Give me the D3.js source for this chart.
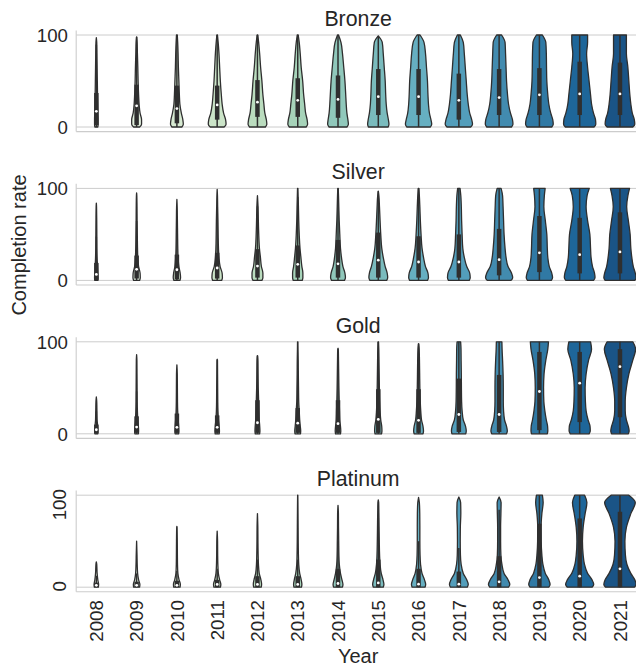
<!DOCTYPE html>
<html>
<head>
<meta charset="utf-8">
<script src="https://cdn.jsdelivr.net/npm/d3@7"></script>
<style>
    body { margin: 0; background: white; }
    text { font-family: 'Liberation Sans', Arial, sans-serif; fill: #262626; }
</style>
</head>
<body>
<svg id="chart" width="636" height="666"></svg>
<script>

let years = ['2008', '2009', '2010', '2011', '2012', '2013', '2014', '2015', '2016', '2017', '2018', '2019', '2020', '2021']
let panels = ['Bronze', 'Silver', 'Gold', 'Platinum']
let yTicks = [0, 100]

// completion rate levels at which the violin half widths were read
let levels = [0, 3, 8, 15, 25, 35, 50, 65, 80, 92, 100]

let bronzeMax = [97, 98, 100, 100, 100, 100, 100, 99, 100, 100, 100, 100, 100, 100]
let bronzeQ1 = [2, 2, 4, 8, 11, 11, 10, 13, 13, 8, 13, 13, 13, 13]
let bronzeMed = [17, 23, 20, 24, 27, 29, 30, 33, 33, 29, 32, 35, 36, 36]
let bronzeQ3 = [37, 46, 45, 45, 51, 53, 56, 63, 63, 58, 63, 64, 71, 70]
let bronzeWidth = [
    [1.5, 1.8, 1.8, 1.6, 1.4, 1.2, 1, 0.8, 0.6, 0.4, 0],
    [3, 5, 5, 3.5, 2.5, 2, 1.5, 1.2, 0.8, 0.5, 0],
    [5, 6.5, 6, 4.5, 3, 2.5, 2, 1.5, 1.2, 0.8, 0.4],
    [7, 9, 8.5, 6.5, 5, 4.2, 3.2, 2.5, 1.8, 1, 0.3],
    [8, 9.5, 9, 7.5, 6.5, 5.5, 4.5, 3.2, 2.2, 1.2, 0.3],
    [8.5, 10, 9.5, 8, 7, 6, 5, 3.5, 2.5, 1.5, 0.5],
    [9, 10.5, 10, 9, 8.3, 7.8, 7, 5.8, 4.5, 3, 0.5],
    [10, 10.8, 10.2, 9, 8, 7.5, 7, 6, 5, 4, 1],
    [12, 13.3, 12.5, 11, 10, 9.5, 9, 8, 7, 5.5, 1.5],
    [12, 13.8, 13, 11, 9.5, 8.5, 7.5, 6.5, 5.5, 4.5, 1.5],
    [12.5, 14, 13.5, 11.5, 9.5, 8.5, 7.5, 7, 6.5, 6, 2.5],
    [12.5, 14, 13.5, 11.5, 9.5, 8.5, 7.5, 7.2, 7, 6.5, 3],
    [14.5, 16.3, 16, 14, 12, 11, 9.5, 8, 7, 8, 8],
    [13, 15, 14.5, 12.5, 11, 10, 9, 8, 6.5, 6.5, 6.5]
]

let silverMax = [84, 95, 88, 99, 92, 100, 100, 97, 100, 100, 100, 100, 100, 100]
let silverQ1 = [0, 2, 1, 2, 3, 3, 3, 3, 3, 3, 5.5, 9, 7.6, 7.6]
let silverMed = [6.5, 12, 11.6, 13.5, 15.6, 17.5, 18, 22, 20, 20, 22.5, 30, 28, 31]
let silverQ3 = [19, 27, 28, 30, 34, 38, 44, 52, 48, 50, 56, 70, 68, 74]
let silverWidth = [
    [1.5, 1.8, 1.5, 1.2, 0.8, 0.6, 0.5, 0.4, 0.2, 0, 0],
    [3, 3.7, 3.5, 2, 1.2, 0.9, 0.7, 0.5, 0.4, 0.2, 0],
    [3, 3.7, 3.3, 2, 1.2, 0.9, 0.7, 0.5, 0.3, 0, 0],
    [4.5, 5.3, 5, 3, 1.8, 1.3, 1, 0.8, 0.5, 0.3, 0],
    [4.5, 5.5, 5.5, 4, 3, 2, 1.3, 0.9, 0.6, 0.3, 0],
    [4.5, 5.2, 5.2, 4.2, 3.2, 2.3, 1.5, 1, 0.7, 0.4, 0.2],
    [6.5, 7.5, 7, 5, 3.5, 2.5, 1.8, 1.2, 0.8, 0.5, 0.2],
    [8.5, 9.5, 9, 7, 5, 3.5, 2.5, 1.8, 1.2, 0.6, 0],
    [9, 10, 9.5, 7, 5, 3.5, 2.5, 1.8, 1.3, 0.8, 0.3],
    [10.5, 11.5, 11, 8, 5.5, 4, 3.3, 2.8, 2.5, 2, 1.2],
    [12, 13.7, 12.5, 9, 7, 6, 5, 4.5, 4, 3.5, 2],
    [12, 13.3, 12.5, 10, 8.5, 8, 7.5, 6, 4.5, 5, 5.8],
    [14, 15.5, 15, 13, 11.5, 11, 10.3, 8, 6.5, 7.5, 9.7],
    [15, 16.3, 15.5, 13.5, 12, 11, 10.3, 8.5, 6.8, 8, 9.7]
]

let goldMax = [40, 86, 75, 81, 85, 100, 93, 100, 98, 100, 100, 100, 100, 100]
let goldQ1 = [0.5, 1, 1, 1, 1, 1, 1, 1, 1, 2, 2, 4, 12.7, 18]
let goldMed = [4.4, 7.3, 7, 7, 12, 11.6, 11, 15.6, 14.6, 21, 21, 46, 55, 73]
let goldQ3 = [10, 19, 22, 20, 36.5, 28, 36.5, 48.5, 48.5, 60, 64, 89, 89, 92]
let goldWidth = [
    [1.5, 1.6, 1.4, 0.8, 0.6, 0.4, 0, 0, 0, 0, 0],
    [1.8, 2, 1.8, 1.2, 0.8, 0.6, 0.5, 0.4, 0.3, 0, 0],
    [1.8, 2, 1.8, 1.3, 0.8, 0.6, 0.5, 0.4, 0, 0, 0],
    [2, 2.3, 2, 1.3, 0.8, 0.6, 0.5, 0.4, 0.3, 0, 0],
    [2.2, 2.5, 2.3, 1.8, 1.5, 1.2, 0.8, 0.6, 0.4, 0, 0],
    [2.8, 3, 2.6, 2, 1.5, 1, 0.8, 0.6, 0.5, 0.3, 0.2],
    [2.5, 2.8, 2.5, 1.8, 1.5, 1.2, 0.9, 0.7, 0.5, 0.3, 0],
    [3.3, 3.7, 3.5, 2.5, 1.8, 1.4, 1.1, 0.9, 0.7, 0.5, 0.2],
    [4.5, 5, 4.5, 3, 2.2, 1.7, 1.3, 1.1, 0.9, 0.6, 0],
    [7, 7.5, 6.8, 4.5, 3.3, 2.8, 2.6, 2.5, 2.3, 2.2, 1.8],
    [7.5, 8.3, 7.5, 5.5, 4.5, 4.2, 4.2, 4, 3.5, 3, 2.8],
    [8, 8.5, 8.3, 7, 5.5, 4.5, 4.2, 4.7, 6.5, 8.5, 9.2],
    [9.5, 10.7, 10.5, 8.5, 6.5, 5.8, 5.5, 6.5, 9, 12, 11],
    [8.5, 9.3, 8.5, 6.5, 5.3, 5.3, 6.5, 9, 13, 15.8, 13]
]

let platinumMax = [27.5, 50, 66, 61, 80, 100, 89, 95, 97.5, 98, 98, 100, 100, 100]
let platinumQ1 = [0, 0, 0, 0, 0, 0, 0, 0, 0, 0, 0, 0, 0, 0]
let platinumMed = [2, 2, 2, 3, 3, 3, 4, 4.7, 3.3, 3.3, 5.8, 10.5, 12, 20]
let platinumQ3 = [5, 6, 7, 8, 12, 12, 20, 30, 20, 17, 33.7, 69, 74.7, 82]
let platinumWidth = [
    [2, 2.3, 1.5, 0.8, 0.4, 0, 0, 0, 0, 0, 0],
    [3, 3.3, 2, 1, 0.6, 0.4, 0.3, 0, 0, 0, 0],
    [3.2, 3.5, 2.2, 1, 0.6, 0.5, 0.4, 0.2, 0, 0, 0],
    [3.3, 3.7, 2.5, 1.2, 0.7, 0.5, 0.4, 0, 0, 0, 0],
    [3.8, 4.2, 3.5, 1.8, 1, 0.7, 0.5, 0.4, 0.2, 0, 0],
    [3.8, 4.2, 3.5, 2, 1, 0.7, 0.5, 0.4, 0.3, 0.2, 0.1],
    [4.5, 5, 4, 2.5, 1.3, 0.9, 0.7, 0.5, 0.4, 0, 0],
    [5, 5.7, 4.8, 3, 1.8, 1.3, 1, 0.8, 0.6, 0.4, 0],
    [6.5, 7.2, 6, 3.5, 2, 1.5, 1.3, 1.3, 1.2, 0.8, 0],
    [8.5, 9.5, 8, 4.5, 2.3, 1.6, 1.4, 1.5, 2, 1.8, 0.3],
    [9.5, 10.8, 9, 5, 2.8, 1.8, 1.5, 1.5, 1.8, 2, 0.5],
    [9.5, 10.8, 9.5, 6, 3.5, 2.5, 1.8, 1.7, 2.5, 3.8, 3],
    [12.5, 14.2, 12.5, 8, 4.8, 3.5, 2.8, 3.5, 5.5, 7.3, 5],
    [14.5, 16.3, 15, 11, 7, 5.5, 5, 6.5, 11, 15.5, 9]
]

let panelData = [
    {max: bronzeMax, q1: bronzeQ1, med: bronzeMed, q3: bronzeQ3, width: bronzeWidth},
    {max: silverMax, q1: silverQ1, med: silverMed, q3: silverQ3, width: silverWidth},
    {max: goldMax, q1: goldQ1, med: goldMed, q3: goldQ3, width: goldWidth},
    {max: platinumMax, q1: platinumQ1, med: platinumMed, q3: platinumQ3, width: platinumWidth}
]

// GnBu colormap, sampled like seaborn and desaturated to 0.75
let gnbu = ['#f7fcf0', '#e0f3db', '#ccebc5', '#a8ddb5', '#7bccc4', '#4eb3d3', '#2b8cbe', '#0868ac', '#084081']
let cmap = d3.scaleLinear()
    .domain(gnbu.map((c, i) => i / (gnbu.length - 1)))
    .range(gnbu)
    .interpolate(d3.interpolateRgb)
let colors = years.map((y, i) => {
    let c = d3.hsl(cmap((i + 1) / (years.length + 1)))
    c.s *= 0.75
    return c.formatHex()
})
let gray = '#2f2f2f'
let gridColor = '#cccccc'

let svg = d3.select('#chart')

let left = 76.2
let right = 640.1
let firstTop = 30.4
let panelStep = 153.4
let panelHeight = 101.2

let x = d3.scaleBand()
    .domain(years)
    .range([left, right])
    .paddingInner(0.2)
    .paddingOuter(0.1)

let halfWidth = d3.scaleLinear()
    .domain([0, 16.3])
    .range([0, x.bandwidth() / 2])

panels.forEach((name, p) => {
    let top = firstTop + p * panelStep
    let bottom = top + panelHeight
    let y = d3.scaleLinear().domain([-5, 105]).range([bottom, top])
    let data = panelData[p]
    let g = svg.append('g')

    // grid lines
    g.selectAll('.grid')
        .data(yTicks)
        .enter()
        .append('line')
        .attr('x1', left)
        .attr('x2', right)
        .attr('y1', d => y(d))
        .attr('y2', d => y(d))
        .attr('stroke', gridColor)
        .attr('stroke-width', 1)

    // spines (left and bottom)
    g.append('line')
        .attr('x1', left).attr('x2', left)
        .attr('y1', top).attr('y2', bottom)
        .attr('stroke', gridColor)
        .attr('stroke-width', 1.1)
    g.append('line')
        .attr('x1', left).attr('x2', right)
        .attr('y1', bottom).attr('y2', bottom)
        .attr('stroke', gridColor)
        .attr('stroke-width', 1.1)

    // title
    g.append('text')
        .text(name)
        .attr('x', (left + right) / 2)
        .attr('y', top - 4.4)
        .attr('text-anchor', 'middle')
        .attr('font-size', '21.3px')

    // y tick labels
    if (p < 3) {
        g.selectAll('.ytick')
            .data(yTicks)
            .enter()
            .append('text')
            .text(d => d)
            .attr('x', 68)
            .attr('y', d => y(d))
            .attr('dy', '0.36em')
            .attr('text-anchor', 'end')
            .attr('font-size', '18.67px')
    } else {
        g.selectAll('.ytick')
            .data(yTicks)
            .enter()
            .append('text')
            .text(d => d)
            .attr('transform', d => 'translate(66,' + (y(d) - 6) + ') rotate(-90)')
            .attr('text-anchor', 'end')
            .attr('font-size', '18.67px')
    }

    // violins
    years.forEach((year, i) => {
        let cx = x(year) + x.bandwidth() / 2
        let mx = data.max[i]
        let pts = []
        levels.forEach((lv, k) => {
            if (lv < mx || (lv === 100 && mx >= 100)) pts.push({v: lv, w: data.width[i][k]})
        })
        if (mx < 100) pts.push({v: mx, w: 0})

        let area = d3.area()
            .y(d => y(d.v))
            .x0(d => cx - halfWidth(d.w))
            .x1(d => cx + halfWidth(d.w))
            .curve(d3.curveMonotoneY)

        g.append('path')
            .attr('d', area(pts))
            .attr('fill', colors[i])
            .attr('stroke', gray)
            .attr('stroke-width', 1.3)
            .attr('stroke-linejoin', 'round')

        // inner box
        let q1 = data.q1[i]
        let q3 = data.q3[i]
        let iqr = q3 - q1
        let lo = Math.max(0, q1 - 1.5 * iqr)
        let hi = Math.min(mx, q3 + 1.5 * iqr)
        g.append('line')
            .attr('x1', cx).attr('x2', cx)
            .attr('y1', y(lo)).attr('y2', y(hi))
            .attr('stroke', gray)
            .attr('stroke-width', 1.5)
        g.append('line')
            .attr('x1', cx).attr('x2', cx)
            .attr('y1', y(q1)).attr('y2', y(q3))
            .attr('stroke', gray)
            .attr('stroke-width', 4.5)
        g.append('circle')
            .attr('cx', cx)
            .attr('cy', y(data.med[i]))
            .attr('r', 1.4)
            .attr('fill', 'white')
    })

    // x tick labels only on last panel
    if (p === 3) {
        g.selectAll('.xtick')
            .data(years)
            .enter()
            .append('text')
            .text(d => d)
            .attr('transform', d => 'translate(' + (x(d) + x.bandwidth() / 2) + ',' + (bottom + 8.4) + ') rotate(-90)')
            .attr('dy', '0.36em')
            .attr('text-anchor', 'end')
            .attr('font-size', '18.67px')
    }
})

// axis labels
svg.append('text')
    .text('Completion rate')
    .attr('transform', 'translate(25.5,245) rotate(-90)')
    .attr('text-anchor', 'middle')
    .attr('font-size', '20px')

svg.append('text')
    .text('Year')
    .attr('x', (left + right) / 2)
    .attr('y', 663)
    .attr('text-anchor', 'middle')
    .attr('font-size', '20px')

</script>
</body>
</html>
